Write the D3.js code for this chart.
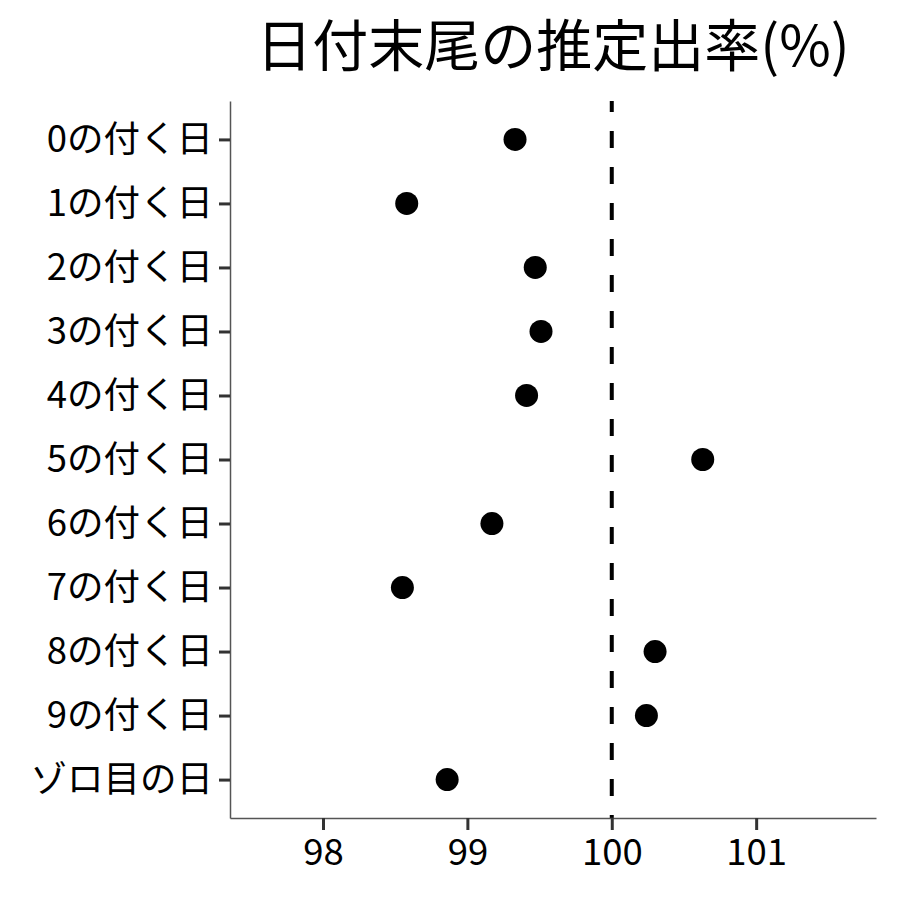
<!DOCTYPE html>
<html>
<head>
<meta charset="utf-8">
<script src="https://cdn.jsdelivr.net/npm/d3@7"></script>
<style>
  body { margin: 0; background: #fff; }
  text { font-family: "Noto Sans CJK JP", sans-serif; }
</style>
</head>
<body>
<div id="svg_area"></div>
<script>
// Define SVG area dimensions
var svgWidth = 900;
var svgHeight = 900;

var margin = { top: 101, right: 24, bottom: 82, left: 230 };
var chartWidth = svgWidth - margin.left - margin.right;
var chartHeight = svgHeight - margin.top - margin.bottom;

// Data
var categories = ["0の付く日", "1の付く日", "2の付く日", "3の付く日", "4の付く日",
  "5の付く日", "6の付く日", "7の付く日", "8の付く日", "9の付く日", "ゾロ目の日"];
var rates = [99.33, 98.58, 99.47, 99.51, 99.41, 100.63, 99.17, 98.55, 100.30, 100.24, 98.86];
var xTicks = [98, 99, 100, 101];
var refValue = 100;
var title = "日付末尾の推定出率(%)";

var svg = d3.select("#svg_area")
  .append("svg")
  .attr("width", svgWidth)
  .attr("height", svgHeight);

var chartGroup = svg.append("g")
  .attr("transform", `translate(${margin.left}, ${margin.top})`);

var xLinearScale = d3.scaleLinear()
  .domain([97.356, 101.83])
  .range([0, chartWidth]);

var yScale = d3.scalePoint()
  .domain(categories)
  .range([0, chartHeight])
  .padding(0.6);

// reference line
chartGroup.append("line")
  .attr("x1", xLinearScale(refValue))
  .attr("x2", xLinearScale(refValue))
  .attr("y1", 0)
  .attr("y2", chartHeight)
  .attr("stroke", "black")
  .attr("stroke-width", 4)
  .attr("stroke-dasharray", "17,19")
  .attr("stroke-dashoffset", 6);

// axes
var leftAxis = d3.axisLeft(yScale).tickSizeInner(11).tickSizeOuter(0).tickPadding(6);
var bottomAxis = d3.axisBottom(xLinearScale)
  .tickValues(xTicks)
  .tickFormat(d3.format("d"))
  .tickSizeInner(12).tickSizeOuter(0).tickPadding(8);

var yAxisG = chartGroup.append("g").call(leftAxis);
var xAxisG = chartGroup.append("g")
  .attr("transform", "translate(0, " + chartHeight + ")")
  .call(bottomAxis);

[yAxisG, xAxisG].forEach(function(g) {
  g.select(".domain").attr("stroke", "#555").attr("stroke-width", 1.5);
  g.selectAll(".tick line").attr("stroke", "#333").attr("stroke-width", 3);
  g.selectAll(".tick text")
    .attr("fill", "black")
    .attr("font-size", "36.5px")
    .attr("font-family", "'Noto Sans CJK JP', sans-serif");
});
xAxisG.selectAll(".tick text").attr("dy", "0.75em");

// points
chartGroup.selectAll("circle")
  .data(rates)
  .enter()
  .append("circle")
  .attr("cx", d => xLinearScale(d))
  .attr("cy", (d, i) => yScale(categories[i]))
  .attr("r", 11.5)
  .attr("fill", "black");

// title
svg.append("text")
  .attr("x", margin.left + chartWidth / 2)
  .attr("y", 66)
  .attr("text-anchor", "middle")
  .attr("font-size", "56px")
  .attr("fill", "black")
  .text(title);
</script>
</body>
</html>
